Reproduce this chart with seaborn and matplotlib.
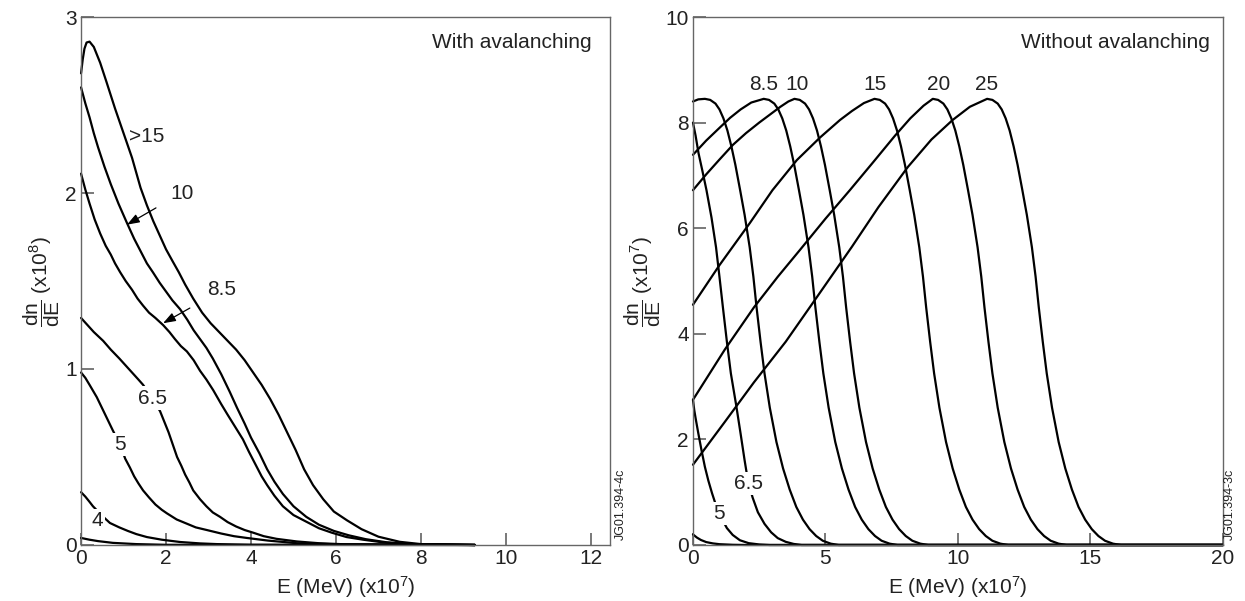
import numpy as np
import pandas as pd
import matplotlib
matplotlib.use("Agg")
import matplotlib.pyplot as plt
import seaborn as sns

# ---- left panel: with avalanching (x in 1e7 MeV, y in 1e8) ----
L_GT15_X = [0, 0.04, 0.08, 0.13, 0.2, 0.3, 0.45, 0.6, 0.8, 1.0, 1.2, 1.4, 1.55, 1.7, 1.85, 2.0, 2.16,
            2.3, 2.45, 2.64, 2.85, 3.05, 3.25, 3.45, 3.65, 3.85, 4.05, 4.25, 4.45, 4.65, 4.85, 5.05,
            5.25, 5.46, 5.7, 5.95, 6.26, 6.6, 7.0, 7.5, 8.0, 9.27]
L_GT15_Y = [2.68, 2.76, 2.82, 2.855, 2.86, 2.83, 2.74, 2.63, 2.48, 2.34, 2.2, 2.03, 1.93, 1.84, 1.76,
            1.68, 1.61, 1.55, 1.48, 1.4, 1.32, 1.26, 1.21, 1.16, 1.11, 1.05, 0.98, 0.91, 0.83, 0.74,
            0.64, 0.54, 0.43, 0.34, 0.26, 0.19, 0.14, 0.09, 0.047, 0.018, 0.005, 0]
L_10_X = [0, 0.1, 0.2, 0.3, 0.4, 0.55, 0.7, 0.88, 1.08, 1.25, 1.4, 1.55, 1.69, 1.85, 2.0, 2.15, 2.33,
          2.5, 2.65, 2.8, 2.95, 3.1, 3.3, 3.5, 3.67, 3.85, 4.0, 4.2, 4.38, 4.55, 4.75, 5.0, 5.3, 5.6,
          5.95, 6.3, 6.7, 7.2, 7.8, 9.27]
L_10_Y = [2.6, 2.51, 2.43, 2.34, 2.26, 2.15, 2.05, 1.94, 1.83, 1.74, 1.67, 1.6, 1.55, 1.49, 1.44,
          1.39, 1.34, 1.28, 1.22, 1.17, 1.12, 1.06, 0.97, 0.87, 0.78, 0.69, 0.61, 0.52, 0.43, 0.36,
          0.29, 0.22, 0.16, 0.115, 0.08, 0.055, 0.033, 0.015, 0.005, 0]
L_85_X = [0, 0.1, 0.2, 0.32, 0.45, 0.58, 0.7, 0.8, 0.92, 1.05, 1.2, 1.33, 1.46, 1.6, 1.75, 1.93, 2.08,
          2.21, 2.35, 2.49, 2.65, 2.8, 2.95, 3.11, 3.3, 3.45, 3.63, 3.81, 3.95, 4.1, 4.25, 4.38, 4.55,
          4.75, 5.0, 5.32, 5.6, 5.9, 6.25, 6.64, 7.1, 7.6, 9.27]
L_85_Y = [2.11, 2.02, 1.94, 1.85, 1.77, 1.7, 1.65, 1.6, 1.55, 1.5, 1.45, 1.4, 1.36, 1.32, 1.29, 1.25,
          1.21, 1.17, 1.13, 1.1, 1.05, 0.99, 0.94, 0.88, 0.8, 0.74, 0.67, 0.6, 0.53, 0.46, 0.39, 0.34,
          0.28, 0.22, 0.17, 0.13, 0.095, 0.07, 0.045, 0.03, 0.015, 0.006, 0]
L_65_X = [0, 0.15, 0.3, 0.52, 0.7, 0.9, 1.05, 1.2, 1.35, 1.46, 1.56, 1.66, 1.76, 1.86, 1.96, 2.06,
          2.16, 2.26, 2.36, 2.45, 2.55, 2.64, 2.8, 2.95, 3.1, 3.27, 3.45, 3.65, 3.85, 4.05, 4.3, 4.6,
          5.08, 5.6, 6.2, 9.27]
L_65_Y = [1.29, 1.25, 1.21, 1.16, 1.11, 1.06, 1.02, 0.98, 0.94, 0.91, 0.875, 0.84, 0.8, 0.76, 0.7,
          0.64, 0.57, 0.5, 0.45, 0.4, 0.355, 0.31, 0.26, 0.22, 0.185, 0.16, 0.13, 0.105, 0.085, 0.07,
          0.05, 0.035, 0.02, 0.01, 0.004, 0]
L_5_X = [0, 0.1, 0.2, 0.37, 0.55, 0.75, 0.92, 1.04, 1.15, 1.25, 1.35, 1.46, 1.6, 1.75, 1.9, 2.02,
         2.25, 2.5, 2.7, 2.96, 3.3, 3.6, 3.9, 4.4, 5.08, 6.0, 9.27]
L_5_Y = [0.98, 0.95, 0.91, 0.84, 0.75, 0.65, 0.57, 0.49, 0.44, 0.39, 0.35, 0.31, 0.27, 0.23, 0.2,
         0.18, 0.145, 0.12, 0.1, 0.085, 0.065, 0.05, 0.04, 0.025, 0.01, 0.004, 0]
L_4_X = [0, 0.1, 0.2, 0.28, 0.38, 0.5, 0.68, 0.9, 1.1, 1.3, 1.55, 1.9, 2.33, 2.8, 3.2, 4.0, 9.27]
L_4_Y = [0.30, 0.275, 0.245, 0.22, 0.195, 0.165, 0.125, 0.1, 0.08, 0.062, 0.045, 0.03, 0.017, 0.009,
         0.005, 0.001, 0]
L_LOW_X = [0, 0.2, 0.4, 0.75, 1.3, 2.0, 9.27]
L_LOW_Y = [0.04, 0.03, 0.022, 0.012, 0.005, 0.001, 0]

# ---- right panel: without avalanching (x in 1e7 MeV, y in 1e7) ----
R_LOW_X = [0, 0.15, 0.3, 0.5, 0.75, 1.0, 1.5, 2.0, 20]
R_LOW_Y = [0.2, 0.14, 0.095, 0.055, 0.03, 0.015, 0.004, 0, 0]
R_5_X = [0, 0.05, 0.1, 0.2, 0.32, 0.45, 0.58, 0.72, 0.85, 1.0, 1.14, 1.28, 1.5, 1.77, 2.1, 2.5, 2.9, 20]
R_5_Y = [2.75, 2.55, 2.4, 2.12, 1.8, 1.48, 1.22, 0.98, 0.78, 0.6, 0.45, 0.32, 0.19, 0.09, 0.035, 0.01,
         0, 0]
R_65_X = [0, 0.1, 0.21, 0.35, 0.51, 0.7, 0.87, 1.0, 1.13, 1.28, 1.43, 1.63, 1.8, 1.95, 2.08, 2.25,
          2.45, 2.7, 2.95, 3.2, 3.5, 3.8, 4.1, 20]
R_65_Y = [8.0, 7.75, 7.42, 7.1, 6.72, 6.2, 5.64, 5.08, 4.5, 3.85, 3.25, 2.65, 2.1, 1.6, 1.2, 0.9,
          0.62, 0.4, 0.24, 0.13, 0.06, 0.02, 0, 0]
R_75_X = [0, 0.2, 0.45, 0.65, 0.85, 1.0, 1.15, 1.3, 1.45, 1.6, 1.78, 1.95, 2.14, 2.28, 2.4, 2.55, 2.7,
          2.9, 3.15, 3.4, 3.65, 3.9, 4.15, 4.4, 4.65, 4.9, 5.2, 5.5, 20]
R_75_Y = [8.4, 8.44, 8.45, 8.43, 8.36, 8.25, 8.08, 7.85, 7.55, 7.2, 6.72, 6.25, 5.64, 5.08, 4.5, 3.85,
          3.25, 2.6, 1.95, 1.45, 1.05, 0.72, 0.48, 0.3, 0.17, 0.08, 0.025, 0, 0]
R_85_X = [0, 0.5, 1.0, 1.4, 1.8, 2.2, 2.67, 2.87, 3.07, 3.22, 3.37, 3.52, 3.67, 3.82, 4.0, 4.17, 4.36,
          4.5, 4.62, 4.77, 4.92, 5.12, 5.37, 5.62, 5.87, 6.12, 6.37, 6.62, 6.87, 7.12, 7.42, 7.72, 20]
R_85_Y = [7.39, 7.66, 7.9, 8.09, 8.25, 8.38, 8.45, 8.43, 8.36, 8.25, 8.08, 7.85, 7.55, 7.2, 6.72, 6.25,
          5.64, 5.08, 4.5, 3.85, 3.25, 2.6, 1.95, 1.45, 1.05, 0.72, 0.48, 0.3, 0.17, 0.08, 0.025, 0, 0]
R_10_X = [0, 0.5, 1.0, 1.51, 2.0, 2.5, 2.9, 3.3, 3.6, 3.83, 4.03, 4.23, 4.38, 4.53, 4.68, 4.83, 4.98,
          5.16, 5.33, 5.52, 5.66, 5.78, 5.93, 6.08, 6.28, 6.53, 6.78, 7.03, 7.28, 7.53, 7.78, 8.03,
          8.28, 8.58, 8.88, 20]
R_10_Y = [6.72, 7.02, 7.3, 7.58, 7.8, 8.0, 8.15, 8.3, 8.4, 8.45, 8.43, 8.36, 8.25, 8.08, 7.85, 7.55,
          7.2, 6.72, 6.25, 5.64, 5.08, 4.5, 3.85, 3.25, 2.6, 1.95, 1.45, 1.05, 0.72, 0.48, 0.3, 0.17,
          0.08, 0.025, 0, 0]
R_15_X = [0, 1.0, 2.15, 3.0, 3.92, 4.8, 5.55, 6.0, 6.45, 6.85, 7.05, 7.25, 7.4, 7.55, 7.7, 7.85, 8.0,
          8.18, 8.35, 8.54, 8.68, 8.8, 8.95, 9.1, 9.3, 9.55, 9.8, 10.05, 10.3, 10.55, 10.8, 11.05,
          11.3, 11.6, 11.9, 20]
R_15_Y = [4.55, 5.3, 6.1, 6.72, 7.29, 7.72, 8.05, 8.22, 8.37, 8.45, 8.43, 8.36, 8.25, 8.08, 7.85,
          7.55, 7.2, 6.72, 6.25, 5.64, 5.08, 4.5, 3.85, 3.25, 2.6, 1.95, 1.45, 1.05, 0.72, 0.48, 0.3,
          0.17, 0.08, 0.025, 0, 0]
R_20_X = [0, 1.2, 2.3, 3.2, 4.04, 5.0, 5.92, 6.8, 7.62, 8.2, 8.7, 9.05, 9.25, 9.45, 9.6, 9.75, 9.9,
          10.05, 10.2, 10.38, 10.55, 10.74, 10.88, 11.0, 11.15, 11.3, 11.5, 11.75, 12.0, 12.25, 12.5,
          12.75, 13.0, 13.25, 13.5, 13.8, 14.1, 20]
R_20_Y = [2.75, 3.7, 4.5, 5.08, 5.59, 6.18, 6.72, 7.25, 7.75, 8.08, 8.32, 8.45, 8.43, 8.36, 8.25,
          8.08, 7.85, 7.55, 7.2, 6.72, 6.25, 5.64, 5.08, 4.5, 3.85, 3.25, 2.6, 1.95, 1.45, 1.05, 0.72,
          0.48, 0.3, 0.17, 0.08, 0.025, 0, 0]
R_25_X = [0, 1.2, 2.3, 3.5, 4.6, 6.0, 7.0, 8.11, 9.0, 9.8, 10.45, 11.1, 11.3, 11.5, 11.65, 11.8,
          11.95, 12.1, 12.25, 12.43, 12.6, 12.79, 12.93, 13.05, 13.2, 13.35, 13.55, 13.8, 14.05, 14.3,
          14.55, 14.8, 15.05, 15.3, 15.55, 15.85, 16.15, 20]
R_25_Y = [1.52, 2.33, 3.08, 3.85, 4.64, 5.65, 6.4, 7.16, 7.68, 8.05, 8.3, 8.45, 8.43, 8.36, 8.25,
          8.08, 7.85, 7.55, 7.2, 6.72, 6.25, 5.64, 5.08, 4.5, 3.85, 3.25, 2.6, 1.95, 1.45, 1.05, 0.72,
          0.48, 0.3, 0.17, 0.08, 0.025, 0, 0]


def to_frame(curves):
    parts = []
    for name, (xs, ys) in curves.items():
        parts.append(pd.DataFrame({"E": xs, "dndE": ys, "curve": name}))
    return pd.concat(parts, ignore_index=True)


left_df = to_frame({
    ">15": (L_GT15_X, L_GT15_Y), "10": (L_10_X, L_10_Y), "8.5": (L_85_X, L_85_Y),
    "6.5": (L_65_X, L_65_Y), "5": (L_5_X, L_5_Y), "4": (L_4_X, L_4_Y), "low": (L_LOW_X, L_LOW_Y),
})
right_df = to_frame({
    "low": (R_LOW_X, R_LOW_Y), "5": (R_5_X, R_5_Y), "6.5": (R_65_X, R_65_Y), "7.5": (R_75_X, R_75_Y),
    "8.5": (R_85_X, R_85_Y), "10": (R_10_X, R_10_Y), "15": (R_15_X, R_15_Y),
    "20": (R_20_X, R_20_Y), "25": (R_25_X, R_25_Y),
})

sns.set_style("ticks")
plt.rcParams["font.family"] = ["Liberation Sans", "DejaVu Sans"]
plt.rcParams["mathtext.fontset"] = "custom"
plt.rcParams["mathtext.rm"] = "Liberation Sans"
plt.rcParams["mathtext.it"] = "Liberation Sans:italic"
plt.rcParams["mathtext.bf"] = "Liberation Sans:bold"

FS = 15
TXT = "#222222"
fig = plt.figure(figsize=(12.45, 6.01), dpi=100)
ax1 = fig.add_axes([0.0651, 0.0932, 0.4249, 0.8785])
ax2 = fig.add_axes([0.5566, 0.0932, 0.4257, 0.8785])

for ax, df in [(ax1, left_df), (ax2, right_df)]:
    for name, g in df.groupby("curve", sort=False):
        sns.lineplot(data=g, x="E", y="dndE", ax=ax, color="black", lw=1.6,
                     sort=False, estimator=None, legend=False, clip_on=False, zorder=2)

for ax in (ax1, ax2):
    for s in ax.spines.values():
        s.set_visible(True)
        s.set_color("#666666")
        s.set_linewidth(1.0)
    ax.tick_params(direction="in", length=9, width=1.1, color="#555555", bottom=True, left=True,
                   top=False, right=False, labelsize=FS, labelcolor=TXT, pad=3)
    ax.set_xlabel("E (MeV) (x10$^7$)", fontsize=FS, color=TXT, labelpad=4)

ax1.set_xlim(0, 12.45)
ax1.set_ylim(0, 3)
ax1.set_xticks([0, 2, 4, 6, 8, 10, 12])
ax1.set_yticks([0, 1, 2, 3])
ax1.set_ylabel(r"$\dfrac{\mathrm{dn}}{\mathrm{dE}}$ (x10$^8$)", fontsize=FS, color=TXT, labelpad=2)

ax2.set_xlim(0, 20)
ax2.set_ylim(0, 10)
ax2.set_xticks([0, 5, 10, 15, 20])
ax2.set_yticks([0, 2, 4, 6, 8, 10])
ax2.set_ylabel(r"$\dfrac{\mathrm{dn}}{\mathrm{dE}}$ (x10$^7$)", fontsize=FS, color=TXT, labelpad=2)

ax1.text(0.966, 0.951, "With avalanching", transform=ax1.transAxes, ha="right", va="center",
         fontsize=FS, color=TXT)
ax2.text(0.975, 0.951, "Without avalanching", transform=ax2.transAxes, ha="right", va="center",
         fontsize=FS, color=TXT)

box = dict(boxstyle="square,pad=0.1", fc="white", ec="none")
arrow = dict(arrowstyle="-|>,head_length=0.5,head_width=0.18", color="black", lw=0.9, shrinkB=0)

# left curve labels
ax1.text(1.55, 2.32, ">15", fontsize=FS, ha="center", va="center", color=TXT)
for lab, x, y in [("6.5", 1.67, 0.835), ("5", 0.92, 0.57), ("4", 0.38, 0.14)]:
    ax1.text(x, y, lab, fontsize=FS, ha="center", va="center", color=TXT, bbox=box, zorder=5)
ax1.annotate("10", xy=(1.08, 1.82), xytext=(2.37, 2.0), fontsize=FS, ha="center", va="center",
             color=TXT, arrowprops=dict(arrow, shrinkA=9))
ax1.annotate("8.5", xy=(1.93, 1.26), xytext=(3.32, 1.45), fontsize=FS, ha="center", va="center",
             color=TXT, arrowprops=dict(arrow, shrinkA=12))

# right curve labels
for lab, x in [("8.5", 2.68), ("10", 3.92), ("15", 6.87), ("20", 9.28), ("25", 11.09)]:
    ax2.text(x, 8.72, lab, fontsize=FS, ha="center", va="center", color=TXT)
for lab, x, y in [("6.5", 2.08, 1.16), ("5", 0.98, 0.6)]:
    ax2.text(x, y, lab, fontsize=FS, ha="center", va="center", color=TXT, bbox=box, zorder=5)

fig.text(0.4985, 0.101, "JG01.394-4c", rotation=90, fontsize=9, ha="center", va="bottom", color=TXT)
fig.text(0.988, 0.101, "JG01.394-3c", rotation=90, fontsize=9, ha="center", va="bottom", color=TXT)

fig.savefig("out.png", dpi=100)
